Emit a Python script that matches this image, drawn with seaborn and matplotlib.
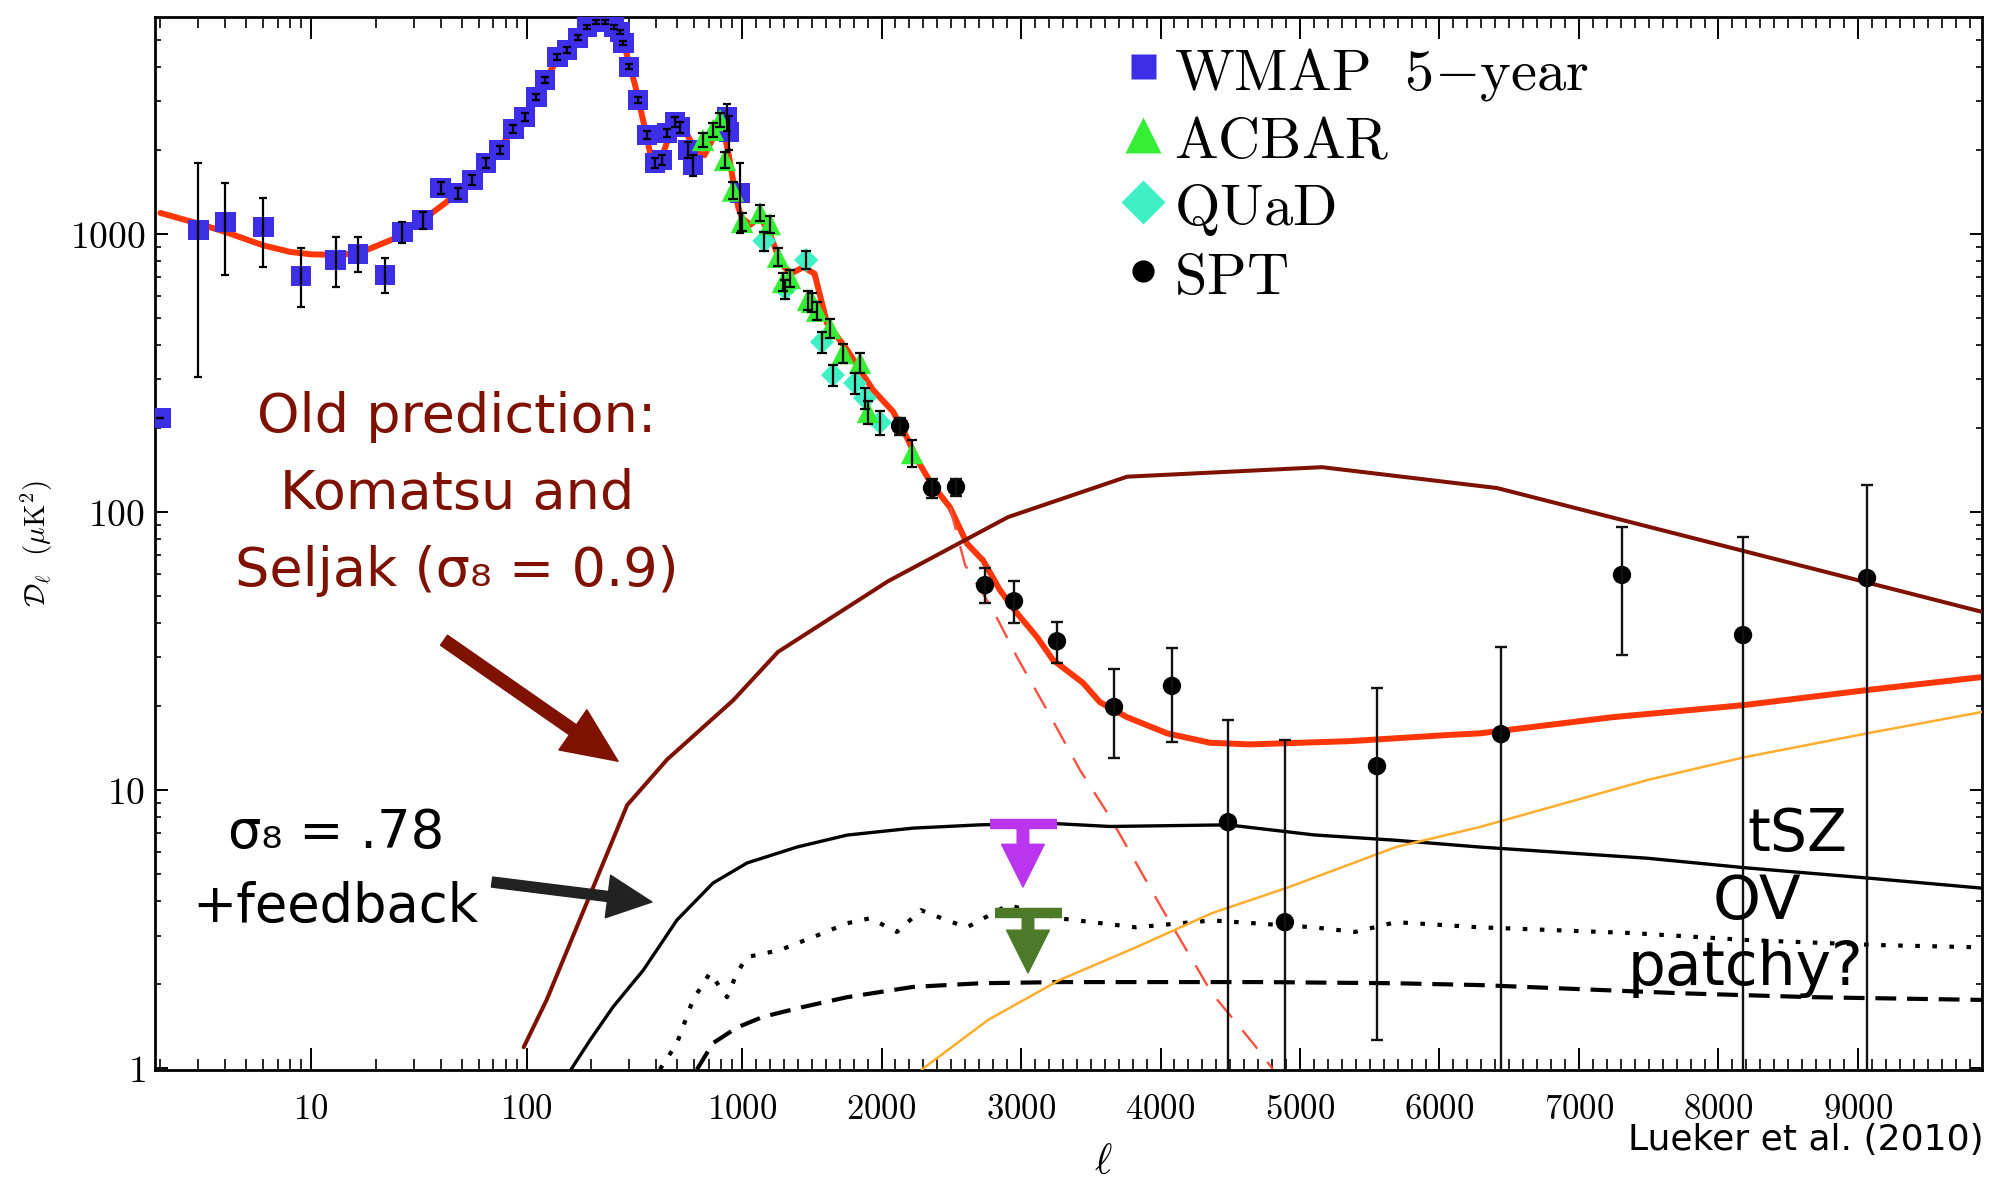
import numpy as np
import matplotlib
matplotlib.use("Agg")
import matplotlib.pyplot as plt
import seaborn as sns
from matplotlib.lines import Line2D
from matplotlib.ticker import FixedLocator, FuncFormatter, NullFormatter, LogLocator

# ---------------- data ----------------
wmap_l = [2, 3, 4, 6, 9, 13, 16.5, 22, 26.5, 33, 40, 48, 56, 65, 75, 87, 98, 111, 122, 139,
          154, 173, 191, 210, 231, 255, 272, 281, 299, 329, 362, 395, 425, 449, 489, 515, 561,
          593, 852, 870, 980]
wmap_v = [218, 1033, 1105, 1060, 706, 806, 848, 712, 1017, 1123, 1463, 1404, 1564, 1800, 2005,
          2387, 2637, 3111, 3580, 4335, 4590, 5070, 5555, 5790, 5790, 5555, 5330, 4860, 3990,
          3034, 2271, 1800, 1846, 2307, 2529, 2427, 2005, 1770, 2637, 2328, 1404]
wmap_elo = [0, 727, 394, 300, 158, 161, 120, 99, 87, 80, 70, 65, 65, 70, 70, 75, 80, 85, 90, 100,
            100, 105, 105, 110, 110, 105, 100, 95, 85, 75, 70, 70, 75, 80, 100, 110, 130, 150,
            300, 330, 400]
wmap_ehi = [0, 767, 415, 285, 184, 170, 128, 108, 88, 77, 70, 65, 65, 70, 70, 75, 80, 85, 90, 100,
            100, 105, 105, 110, 110, 105, 100, 95, 85, 75, 70, 70, 75, 80, 100, 110, 130, 150,
            300, 330, 400]

acbar_l = [659, 733, 791, 833, 908, 1000, 1129, 1200, 1258, 1294, 1344, 1473, 1502, 1538, 1631,
           1724, 1846, 1903, 2219]
acbar_v = [2178, 2366, 2570, 1846, 1433, 1105, 1190, 1085, 827, 672, 695, 579, 570, 530, 459,
           373, 344, 229, 163]
acbar_e = [130, 140, 150, 120, 100, 80, 80, 75, 60, 50, 50, 45, 45, 40, 35, 30, 28, 22, 18]

quad_l = [1160, 1310, 1460, 1573, 1652, 1810, 1882, 1989]
quad_v = [945, 635, 806, 409, 311, 291, 257, 210]
quad_e = [75, 50, 60, 35, 28, 25, 22, 20]

spt_l = [2133, 2362, 2534, 2742, 2950, 3258, 3667, 4082, 4484, 4892, 5552, 6441, 7308, 8176, 9065]
spt_v = [204, 122, 123, 54.6, 47.8, 34.3, 19.9, 23.7, 7.67, 3.35, 12.2, 15.9, 59.4, 36.1, 57.9]
spt_low = [190, 112, 114, 47.0, 39.9, 28.6, 13.1, 14.9, 0.5, 0.5, 1.26, 0.5, 30.6, 0.5, 0.5]
spt_high = [218, 132, 132, 62.9, 56.4, 40.2, 27.3, 32.4, 17.8, 15.2, 23.3, 32.6, 88.3, 81.3, 125]

model_l = [2, 3, 4, 6, 8, 10, 14, 18, 24, 33, 42, 50, 60, 75, 90, 110, 130, 150, 175, 200,
           220, 240, 265, 290, 320, 350, 375, 400, 420, 450, 490, 530, 570, 620, 670, 720, 780,
           820, 860, 910, 960, 1000, 1060, 1130, 1200, 1280, 1350, 1440, 1520, 1609, 1753, 1939,
           2082, 2183, 2254, 2350, 2491, 2613, 2728, 2849, 2971, 3115, 3229, 3444, 3566, 3760,
           4047, 4355, 4642, 5000, 5358, 6075, 6290, 7244, 8176, 9065, 9889]
model_v = [1190, 1090, 1017, 910, 862, 845, 840, 874, 958, 1123, 1293, 1450, 1680, 2050, 2450,
           3100, 3900, 4600, 5300, 5750, 5850, 5750, 5300, 4500, 3400, 2500, 1950, 1780, 1850,
           2150, 2420, 2450, 2200, 1960, 1920, 2150, 2400, 2350, 2000, 1550, 1250, 1140, 1080,
           1150, 1000, 780, 720, 760, 720, 478, 383, 275, 230, 185, 155, 128, 104, 77, 67, 52.4,
           43.3, 35.5, 29.4, 24.3, 20.7, 18.3, 16.0, 14.8, 14.6, 14.8, 15.0, 15.8, 16.0, 18.3,
           20.2, 22.9, 25.5]

prim_l = [2491, 2599, 2799, 2971, 3186, 3423, 3638, 4004, 4369, 4663, 4806]
prim_v = [104, 64.5, 44.4, 30.1, 19.4, 11.8, 8.0, 3.8, 1.86, 1.23, 0.99]

ks_l = [97, 124, 293, 450, 908, 1258, 2047, 2907, 3760, 5158, 6412, 9925]
ks_v = [1.19, 1.76, 8.83, 12.9, 21.0, 31.4, 56.4, 95.9, 134, 145, 122, 43.3]

fb_l = [161, 197, 252, 348, 499, 733, 1036, 1394, 1753, 2226, 2706, 3200, 3638, 4484, 5100,
        5688, 6290, 7487, 8204, 9065, 9889]
fb_v = [0.99, 1.26, 1.66, 2.25, 3.41, 4.63, 5.47, 6.24, 6.89, 7.30, 7.5, 7.6, 7.4, 7.5, 6.9,
        6.6, 6.24, 5.69, 5.25, 4.83, 4.44]

dot_l = [416, 499, 592, 710, 852, 947, 1036, 1272, 1509, 1753, 1918, 2111, 2283, 2470, 2613,
         2907, 3272, 3824, 4369, 5100, 5394, 5688, 6290, 7387, 8204, 9158, 9889]
dot_v = [0.99, 1.23, 1.76, 2.2, 1.8, 2.2, 2.51, 2.66, 2.96, 3.32, 3.46, 3.09, 3.70, 3.40, 3.21,
         3.86, 3.46, 3.21, 3.40, 3.21, 3.09, 3.35, 3.21, 3.06, 2.89, 2.77, 2.72]

dsh_l = [618, 733, 947, 1151, 1437, 1753, 2226, 2706, 3272, 4735, 5688, 6290, 7724, 8677, 9889]
dsh_v = [0.99, 1.23, 1.40, 1.53, 1.66, 1.80, 1.96, 2.02, 2.04, 2.04, 2.02, 1.99, 1.86, 1.80, 1.76]

ora_l = [2290, 2763, 3272, 3824, 4369, 4921, 5688, 6290, 7500, 8176, 9065, 9889]
ora_v = [0.99, 1.49, 2.07, 2.72, 3.61, 4.48, 6.24, 7.37, 10.9, 13.1, 16.0, 19.1]

# upper-limit markers (bar + down arrow)
lim_l = [3014, 3050]
lim_left = [2778, 2814]
lim_right = [3258, 3294]
lim_top = [7.54, 3.61]
lim_tip = [4.48, 2.2]
lim_col = ["#bb35ee", "#4d7a28"]

x_major = [10, 100, 1000, 2000, 3000, 4000, 5000, 6000, 7000, 8000, 9000]
legend_labels = [r"$\mathrm{WMAP\ \ 5{-}year}$", r"$\mathrm{ACBAR}$", r"$\mathrm{QUaD}$", r"$\mathrm{SPT}$"]

# ---------------- styling ----------------
W, H = 1989, 1180
sns.set_theme(style="ticks")
plt.rcParams["font.family"] = ["DejaVu Sans"]
plt.rcParams["mathtext.fontset"] = "cm"
plt.rcParams["axes.edgecolor"] = "black"
plt.rcParams["xtick.color"] = "black"
plt.rcParams["ytick.color"] = "black"
plt.rcParams["text.color"] = "black"

C_BLUE = "#3d2ee8"
C_GREEN = "#35ee35"
C_QUAD = "#3ff0c4"
C_RED = "#ff3608"
C_DRED = "#7e1100"
C_ORANGE = "#ffad2e"

fig = plt.figure(figsize=(W / 100, H / 100), dpi=100)
ax = fig.add_axes([155 / W, 1 - 1070 / H, (1982 - 155) / W, (1070 - 17) / H])

K = 139.5 / 215.5 / 1000.0


def fwd(l):
    l = np.asarray(l, dtype=float)
    lg = np.log10(np.clip(l, 1e-6, None))
    return np.where(l <= 1000.0, lg, 3.0 + (l - 1000.0) * K)


def inv(u):
    u = np.asarray(u, dtype=float)
    return np.where(u <= 3.0, np.power(10.0, np.minimum(u, 3.0)), 1000.0 + (u - 3.0) / K)


ax.set_xscale("function", functions=(fwd, inv))
ax.set_yscale("log")

# ---------------- curves ----------------
sns.lineplot(x=model_l, y=model_v, ax=ax, color=C_RED, lw=4.3, sort=False, zorder=2)
sns.lineplot(x=prim_l, y=prim_v, ax=ax, color="#ff5040", lw=1.7, sort=False, zorder=2,
             linestyle=(0, (10, 7)))
sns.lineplot(x=ks_l, y=ks_v, ax=ax, color=C_DRED, lw=2.9, sort=False, zorder=3)
sns.lineplot(x=fb_l, y=fb_v, ax=ax, color="black", lw=2.4, sort=False, zorder=3)
sns.lineplot(x=dot_l, y=dot_v, ax=ax, color="black", lw=3.0, sort=False, zorder=3,
             linestyle=(0, (1.1, 3.0)))
sns.lineplot(x=dsh_l, y=dsh_v, ax=ax, color="black", lw=3.0, sort=False, zorder=3,
             linestyle=(0, (5.0, 2.6)))
sns.lineplot(x=ora_l, y=ora_v, ax=ax, color=C_ORANGE, lw=1.8, sort=False, zorder=3)

# ---------------- data points ----------------
sns.scatterplot(x=wmap_l, y=wmap_v, ax=ax, marker="s", s=220, color=C_BLUE, edgecolor="none",
                linewidth=0, zorder=5, legend=False)
sns.scatterplot(x=quad_l, y=quad_v, ax=ax, marker="D", s=150, color=C_QUAD, edgecolor="none",
                linewidth=0, zorder=6, legend=False)
sns.scatterplot(x=acbar_l, y=acbar_v, ax=ax, marker="^", s=260, color=C_GREEN, edgecolor="none",
                linewidth=0, zorder=7, legend=False)
sns.scatterplot(x=spt_l, y=spt_v, ax=ax, marker="o", s=175, color="black", edgecolor="none",
                linewidth=0, zorder=8, legend=False)

ax.errorbar(wmap_l, wmap_v, yerr=[wmap_elo, wmap_ehi], fmt="none", ecolor="black",
            elinewidth=1.6, capsize=3, capthick=1.6, zorder=9)
ax.errorbar(acbar_l, acbar_v, yerr=[acbar_e, acbar_e], fmt="none", ecolor="black",
            elinewidth=1.6, capsize=3.5, capthick=1.6, zorder=9)
ax.errorbar(quad_l, quad_v, yerr=[quad_e, quad_e], fmt="none", ecolor="black",
            elinewidth=1.6, capsize=3.5, capthick=1.6, zorder=9)
spt_v_a = np.array(spt_v)
ax.errorbar(spt_l, spt_v, yerr=[spt_v_a - np.array(spt_low), np.array(spt_high) - spt_v_a],
            fmt="none", ecolor="#111111", elinewidth=1.7, capsize=4, capthick=1.7, zorder=9)

# upper limits
for l0, a, b, top, tip, c in zip(lim_l, lim_left, lim_right, lim_top, lim_tip, lim_col):
    ax.plot([a, b], [top, top], color=c, lw=7.5, solid_capstyle="butt", zorder=10)
    ax.annotate("", xy=(l0, tip), xytext=(l0, top), xycoords="data",
                arrowprops=dict(arrowstyle="simple,head_length=1.4,head_width=1.4,tail_width=0.38",
                                color=c, mutation_scale=22, shrinkA=0, shrinkB=0), zorder=10)

# ---------------- axes ----------------
ax.set_xlim(1.888, 9889)
ax.set_ylim(0.985, 6030)
ax.set_xlabel("")
ax.set_ylabel("")
ax.xaxis.set_major_locator(FixedLocator(x_major))
x_minor = list(range(2, 10)) + list(range(20, 100, 10)) + list(range(200, 1000, 100)) + \
    [v for v in range(1100, 9900, 100) if v % 1000 != 0]
ax.xaxis.set_minor_locator(FixedLocator(x_minor))
fmt = FuncFormatter(lambda v, p: r"$\mathbf{%d}$" % int(round(v)))
ax.xaxis.set_major_formatter(fmt)
ax.xaxis.set_minor_formatter(NullFormatter())
ax.yaxis.set_major_locator(FixedLocator([1, 10, 100, 1000]))
ax.yaxis.set_minor_locator(LogLocator(base=10, subs=np.arange(2, 10), numticks=30))
ax.yaxis.set_major_formatter(fmt)
ax.yaxis.set_minor_formatter(NullFormatter())

ax.tick_params(axis="x", which="major", direction="in", length=16, width=1.4, top=True,
               bottom=True, pad=16, labelsize=25)
ax.tick_params(axis="x", which="minor", direction="in", length=8, width=1.2, top=True, bottom=True)
ax.tick_params(axis="y", which="major", direction="in", length=9, width=1.4, left=True,
               right=True, pad=7, labelsize=27)
ax.tick_params(axis="y", which="minor", direction="in", length=4.5, width=1.2, left=True, right=True)
for s in ax.spines.values():
    s.set_linewidth(2.0)
    s.set_color("black")
    s.set_visible(True)

# legend
handles = [
    Line2D([], [], ls="none", marker="s", ms=18, color=C_BLUE, mec="none"),
    Line2D([], [], ls="none", marker="^", ms=26, color=C_GREEN, mec="none"),
    Line2D([], [], ls="none", marker="D", ms=22, color=C_QUAD, mec="none"),
    Line2D([], [], ls="none", marker="o", ms=16, color="black", mec="none"),
]
ax.legend(handles, legend_labels, loc="upper left", bbox_to_anchor=(1128 / W, 1 - 43 / H),
          bbox_transform=fig.transFigure, frameon=False, fontsize=42, handlelength=0.53,
          handleheight=1.0, handletextpad=0.26, labelspacing=0.16, borderpad=0, borderaxespad=0)

# axis labels
fig.text(37 / W, 1 - 544 / H, r"$\mathcal{D}_\ell\ \ (\mu\mathrm{K}^2)$", rotation=90,
         ha="center", va="center", fontsize=21)
fig.text(1103 / W, 1 - 1174 / H, r"$\ell$", ha="center", va="baseline", fontsize=30)

# annotations
fig.text(457 / W, 1 - 494 / H, "Old prediction:\nKomatsu and\nSeljak (σ₈ = 0.9)", color=C_DRED,
         fontsize=39, ha="center", va="center", linespacing=1.62)
ax.annotate("", xy=(266, 12.7), xytext=(41.4, 34.6), xycoords="data",
            arrowprops=dict(arrowstyle="simple,head_length=1.8,head_width=1.6,tail_width=0.4",
                            color=C_DRED, mutation_scale=22, shrinkA=0, shrinkB=0), zorder=11)
fig.text(336 / W, 1 - 870 / H, "σ₈ = .78\n+feedback", color="black", fontsize=38,
         ha="center", va="center", linespacing=1.55)
ax.annotate("", xy=(382, 3.96), xytext=(69.2, 4.67), xycoords="data",
            arrowprops=dict(arrowstyle="simple,head_length=1.45,head_width=1.4,tail_width=0.33",
                            color="#222222", mutation_scale=22, shrinkA=0, shrinkB=0), zorder=11)
fig.text(1797 / W, 1 - 834 / H, "tSZ", fontsize=42, ha="center", va="center")
fig.text(1757 / W, 1 - 902 / H, "OV", fontsize=44, ha="center", va="center")
fig.text(1745 / W, 1 - 968 / H, "patchy?", fontsize=43, ha="center", va="center")
fig.text(1984 / W, 1 - 1140 / H, "Lueker et al. (2010)", fontsize=26, ha="right", va="center")

fig.savefig("out.png", dpi=100)
